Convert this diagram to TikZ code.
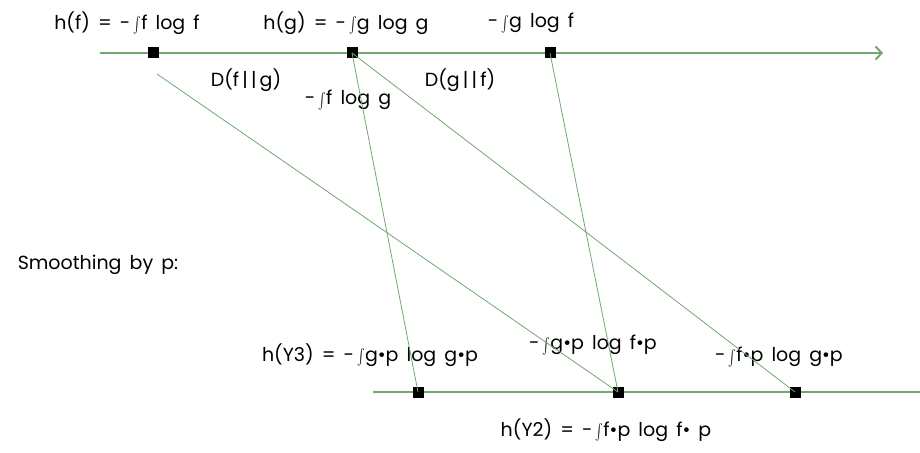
\documentclass[tikz,border=0pt]{standalone}
\usepackage{fontspec}
\setmainfont{Poppins}[WordSpace=1.6]
\usetikzlibrary{arrows.meta, positioning}
\definecolor{axisgreen}{RGB}{112,168,112}
\newcommand{\igl}{\,\raisebox{-0.3ex}{\scalebox{1.15}[1.6]{$\int$}}}

\begin{document}
\begin{tikzpicture}[x=1pt, y=-1pt,
    sq/.style={rectangle, fill=black, minimum size=11pt, inner sep=0pt},
    lbl/.style={font=\fontsize{19}{23}\selectfont, inner sep=0pt},
    axis/.style={draw=axisgreen, line width=2pt, -{Straight Barb[length=6pt, width=13pt]}},
    link/.style={draw=axisgreen, line width=0.8pt}
]
\useasboundingbox (0,0) rectangle (920,452);
% top axis
\draw[axis] (100,53) -- (883,53);
\node[sq] (t1) at (153,53) {};
\node[sq] (t2) at (352,53) {};
\node[sq] (t3) at (550,53) {};
% bottom axis
\draw[axis] (373,392) -- (928,392);
\node[sq] (b1) at (418,392) {};
\node[sq] (b2) at (618,392) {};
\node[sq] (b3) at (795,392) {};
% labels
\node[lbl] (hf) at (127,23) {h(f) = -\igl f log f};
\node[lbl] (hg) at (346,23) {h(g) = -\igl g log g};
\node[lbl] (gf) at (531,23) {-\igl g log f};
\node[lbl] (dfg) at (246,80) {D(f\,|\,|\,g)};
\node[lbl] (fg) at (348,100) {-\igl f log g};
\node[lbl] (dgf) at (460,80) {D(g\,|\,|\,f)};
\node[lbl] (smooth) at (98,265) {Smoothing by p:};
\node[lbl] (hy3) at (370,355) {h(Y3) = -\igl g•p log g•p};
\node[lbl] (gpfp) at (593,345) {-\igl g•p log f•p};
\node[lbl] (fpgp) at (779,357) {-\igl f•p log g•p};
\node[lbl] (hy2) at (606,430) {h(Y2) = -\igl f•p log f• p};
% connectors
\coordinate (s1) at (157,74);
\draw[link] (s1) -- (b2.center);
\draw[link] (t2.center) -- (b1.center);
\draw[link] (t2.center) -- (b3.center);
\draw[link] (t3.center) -- (b2.center);
\end{tikzpicture}
\end{document}
